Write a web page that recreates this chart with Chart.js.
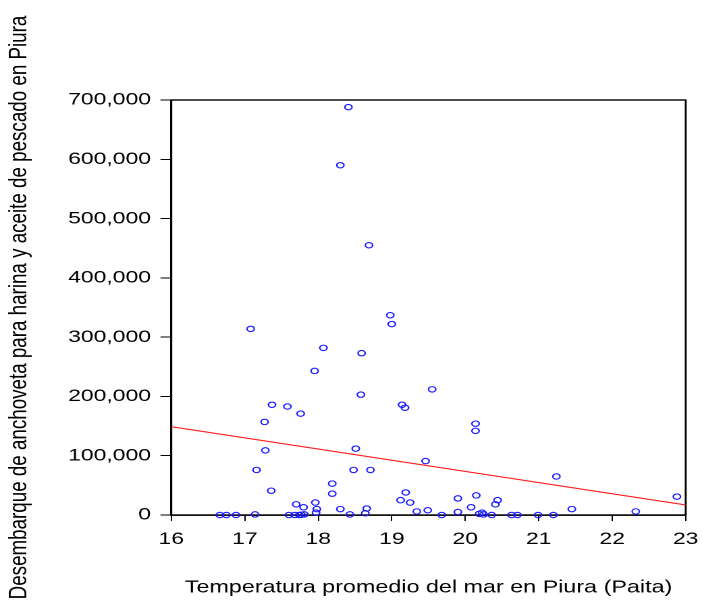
<!DOCTYPE html>
<html>
<head>
<meta charset="utf-8">
<script src="https://cdn.jsdelivr.net/npm/chart.js@4/dist/chart.umd.min.js"></script>
<style>
  html, body { margin:0; padding:0; background:#fff; }
</style>
</head>
<body>
<canvas id="c" width="520" height="602" style="display:block;width:702px;height:602px;"></canvas>
<script>
// temperatura del mar (Paita), °C
var tempX = [18.41,18.30,18.69,17.08,18.98,19.00,18.07,18.59,17.95,18.58,
             17.37,17.58,17.76,19.14,19.18,19.55,17.27,17.28,17.16,18.51,
             18.48,18.71,19.46,17.36,18.19,18.19,17.70,17.80,17.96,17.98,
             17.97,18.30,18.66,18.64,18.43,19.19,19.12,19.25,19.34,19.49,
             16.66,16.75,16.88,17.14,17.60,17.68,17.74,17.77,17.81,20.14,
             20.14,21.24,22.88,19.90,20.15,20.44,20.41,20.08,21.45,22.32,
             19.90,19.68,20.19,20.23,20.25,20.36,20.63,20.71,20.99,21.20];
// desembarque de anchoveta (TM)
var desembY = [688000,590000,455000,314000,337000,322000,282000,273000,243000,203000,
               186000,183000,171000,186000,181000,212000,157000,109000,76000,112000,
               76000,76000,91000,41000,53000,36000,18000,13000,21000,10000,
               4000,10000,11000,3000,1000,38000,25000,21000,6000,8000,
               0,0,0,1000,0,0,0,500,1000,154000,
               142000,65000,31000,28000,33000,25000,18000,13000,10000,6000,
               5000,0,2000,4000,1000,0,0,0,0,0];
// recta de regresión (extremos)
var fitX = [16, 23];
var fitY = [149000, 17000];

var xTicks = { min:16, max:23, step:1 };
var yTicks = { min:0, max:700000, step:100000 };

var SX = 702 / 520; // el original está estirado en horizontal

var pts = tempX.map(function(x, i) { return { x:x, y:desembY[i] }; });
var fit = fitX.map(function(x, i) { return { x:x, y:fitY[i] }; });

var framePlugin = {
  id:'frame',
  beforeDatasetsDraw: function(chart) {
    var a = chart.chartArea, ctx = chart.ctx;
    ctx.save();
    ctx.strokeStyle = '#000';
    ctx.lineWidth = 1.4;
    ctx.strokeRect(a.left, a.top, a.right - a.left, a.bottom - a.top);
    ctx.restore();
  }
};

Chart.defaults.font.family = "'Liberation Sans', Arial, sans-serif";
Chart.defaults.color = '#000';

new Chart(document.getElementById('c'), {
  type:'scatter',
  data:{ datasets:[
    { data:pts, pointStyle:'circle', pointRadius:2.7, pointHoverRadius:2.7,
      pointBorderColor:'#1a1aff', pointBackgroundColor:'rgba(0,0,0,0)', pointBorderWidth:1.1,
      clip:false, order:1 },
    { type:'line', data:fit, borderColor:'#ff2020', borderWidth:1.1, pointRadius:0,
      fill:false, tension:0, order:2 }
  ]},
  options:{
    responsive:false, animation:false, devicePixelRatio:2,
    layout:{ padding:{ left:0, right:0, top:100, bottom:0 } },
    plugins:{ legend:{display:false}, tooltip:{enabled:false} },
    scales:{
      x:{ type:'linear', min:xTicks.min, max:xTicks.max,
        ticks:{ stepSize:xTicks.step, font:{size:17}, padding:8, maxRotation:0 },
        grid:{ drawOnChartArea:false, drawTicks:true, tickLength:6, color:'#000', lineWidth:1 },
        border:{ display:true, color:'#000', width:1.4 },
        title:{ display:true, text:'Temperatura promedio del mar en Piura (Paita)', font:{size:17.3}, padding:{top:0,bottom:4} },
        afterFit:function(s){ s.height = 87; s.paddingRight = 520 - 685.7 / SX; s.paddingLeft = 0; }
      },
      y:{ type:'linear', min:yTicks.min, max:yTicks.max,
        ticks:{ stepSize:yTicks.step, font:{size:17}, padding:7,
          callback:function(v){ return v.toLocaleString('en-US'); } },
        grid:{ drawOnChartArea:false, drawTicks:true, tickLength:8, color:'#000', lineWidth:1 },
        border:{ display:true, color:'#000', width:1.4 },
        title:{ display:true, text:'Desembarque de anchoveta para harina y aceite de pescado en Piura', font:{size:18.8}, padding:{top:3,bottom:0} },
        afterFit:function(s){ s.width = 171.3 / SX; }
      }
    }
  },
  plugins:[framePlugin]
});
</script>
</body>
</html>
